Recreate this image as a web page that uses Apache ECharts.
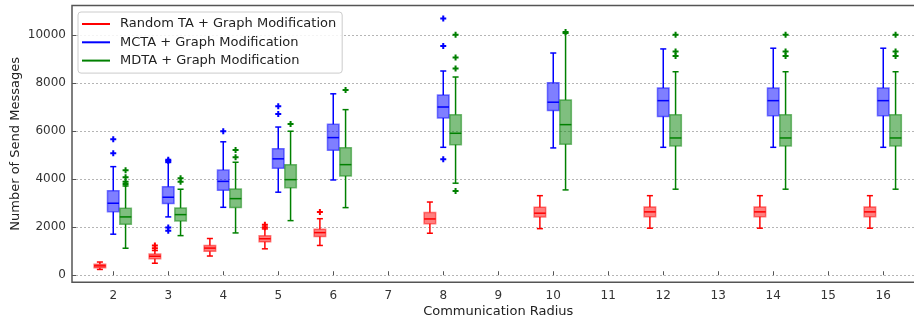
<!DOCTYPE html>
<html><head><meta charset="utf-8">
<script src="https://cdn.jsdelivr.net/npm/echarts@6/dist/echarts.min.js"></script>
<style>html,body{margin:0;padding:0;background:#fff}#c{width:914px;height:322px}</style>
</head><body><div id="c"></div><script>
// ---- data ----
const xTicks = [2,3,4,5,6,7,8,9,10,11,12,13,14,15,16];
const yTicks = [0,2000,4000,6000,8000,10000];
const seriesNames = ['Random TA + Graph Modification','MCTA + Graph Modification','MDTA + Graph Modification'];
const xAxisName = 'Communication Radius';
const yAxisName = 'Number of Send Messages';
// each box: [radius, whiskerLow, q1, median, q3, whiskerHigh]
const randomBoxes = [
  [2, 240, 310, 390, 460, 550],
  [3, 500, 690, 790, 885, 1030],
  [4, 800, 1000, 1130, 1240, 1530],
  [5, 1100, 1390, 1520, 1640, 1930],
  [6, 1240, 1610, 1775, 1915, 2355],
  [8, 1750, 2150, 2345, 2610, 3050],
  [10, 1940, 2430, 2585, 2835, 3315],
  [12, 1960, 2440, 2640, 2845, 3315],
  [14, 1960, 2440, 2640, 2845, 3315],
  [16, 1960, 2440, 2640, 2845, 3315]
];
const randomOutliers = [[3,1125],[3,1235],[5,2000],[5,2100],[6,2630]];
const mctaBoxes = [
  [2, 1710, 2650, 3000, 3525, 4525],
  [3, 2430, 2985, 3250, 3690, 4700],
  [4, 2830, 3540, 3910, 4380, 5560],
  [5, 3460, 4460, 4850, 5275, 6175],
  [6, 3970, 5208, 5735, 6290, 7560],
  [8, 5330, 6555, 7010, 7510, 8510],
  [10, 5305, 6860, 7210, 8025, 9260],
  [12, 5330, 6610, 7275, 7805, 9430],
  [14, 5330, 6650, 7275, 7805, 9460],
  [16, 5330, 6650, 7275, 7805, 9460]
];
const mctaOutliers = [[2,5080],[2,5670],[3,1850],[3,1985],[3,4760],[3,4810],[4,6000],[5,6720],[5,7040],[8,4830],[8,9550],[8,10700]];
const mdtaBoxes = [
  [2, 1125, 2125, 2430, 2790, 3720],
  [3, 1650, 2262, 2525, 2804, 3583],
  [4, 1762, 2817, 3192, 3596, 4708],
  [5, 2275, 3650, 3983, 4608, 6000],
  [6, 2817, 4137, 4608, 5317, 6900],
  [8, 3835, 5440, 5915, 6690, 8260],
  [10, 3555, 5460, 6275, 7305, 10080],
  [12, 3585, 5390, 5720, 6690, 8480],
  [14, 3585, 5390, 5720, 6690, 8480],
  [16, 3585, 5390, 5720, 6690, 8480]
];
const mdtaOutliers = [[2,3800],[2,3890],[2,4080],[2,4375],[3,3900],[3,4040],[4,4917],[4,5221],[5,6304],[6,7721],
  [8,3510],[8,8610],[8,9070],[8,10025],[10,10140],[12,9140],[12,9320],[12,10025],[14,9140],[14,9320],[14,10025],[16,9140],[16,9320],[16,10025]];

// ---- styling ----
const groups = [
  {name: seriesNames[0], boxes: randomBoxes, outliers: randomOutliers, offset: -0.243, color: '#ff0000', fill: 'rgba(255,0,0,0.5)', edge: 'rgba(255,0,0,0.5)'},
  {name: seriesNames[1], boxes: mctaBoxes, outliers: mctaOutliers, offset: 0, color: '#0000ff', fill: 'rgba(0,0,255,0.5)', edge: 'rgba(0,0,255,0.5)'},
  {name: seriesNames[2], boxes: mdtaBoxes, outliers: mdtaOutliers, offset: 0.224, color: '#008000', fill: 'rgba(0,128,0,0.5)', edge: 'rgba(0,128,0,0.5)'}
];
const plusPath = 'path://M2,0H4V2H6V4H4V6H2V4H0V2H2Z';

function makeRender(g) {
  return function (params, api) {
    const x = api.value(0) + g.offset;
    const lo = api.value(1), q1 = api.value(2), md = api.value(3), q3 = api.value(4), hi = api.value(5);
    const halfW = 0.105, capW = 0.055;
    const p = (xx, v) => api.coord([xx, v]);
    const line = (a, b, style) => ({type: 'line', shape: {x1: a[0], y1: a[1], x2: b[0], y2: b[1]}, style});
    const ws = {stroke: g.color, lineWidth: 1.5};
    const tl = p(x - halfW, q3), br = p(x + halfW, q1);
    return {type: 'group', children: [
      line(p(x, q3), p(x, hi), ws),
      line(p(x, q1), p(x, lo), ws),
      line(p(x - capW, hi), p(x + capW, hi), ws),
      line(p(x - capW, lo), p(x + capW, lo), ws),
      {type: 'rect', shape: {x: tl[0], y: tl[1], width: br[0] - tl[0], height: br[1] - tl[1]},
        style: {fill: g.fill, stroke: g.edge, lineWidth: 1.5}},
      line(p(x - halfW, md), p(x + halfW, md), {stroke: g.color, lineWidth: 1.5})
    ]};
  };
}

const series = [];
groups.forEach(g => {
  series.push({
    type: 'custom', name: g.name, renderItem: makeRender(g),
    itemStyle: {color: g.color},
    encode: {x: 0, y: [1, 2, 3, 4, 5]},
    data: g.boxes, z: 2
  });
});
groups.forEach(g => {
  series.push({
    type: 'scatter', name: g.name + ' outliers', symbol: plusPath, symbolSize: 6,
    itemStyle: {color: g.color, opacity: 1},
    data: g.outliers.map(d => [d[0] + g.offset, d[1]]), z: 3, silent: true
  });
});

const chart = echarts.init(document.getElementById('c'), null, {renderer: 'canvas'});
const font = 'DejaVu Sans';
chart.setOption({
  animation: false,
  backgroundColor: '#fff',
  grid: {left: 72, top: 5.5, right: -10.5, bottom: 39.7, show: true, borderColor: '#555', borderWidth: 1.5,
    backgroundColor: 'transparent', containLabel: false, outerBoundsMode: 'none'},
  legend: {
    data: seriesNames, orient: 'vertical', left: 78, top: 12,
    itemWidth: 28, itemHeight: 2, itemGap: 5.3, icon: 'rect',
    backgroundColor: 'rgba(255,255,255,0.85)', borderColor: '#ccc', borderWidth: 1, borderRadius: 3,
    padding: [5.5, 6, 6, 4],
    textStyle: {fontFamily: font, fontSize: 13, color: '#222', padding: [0, 0, 0, 5]}
  },
  xAxis: {
    type: 'value', min: 1.25, max: 16.75,
    name: xAxisName, nameLocation: 'middle', nameGap: 23, nameMoveOverlap: false,
    nameTextStyle: {fontFamily: font, fontSize: 13, color: '#222'},
    axisLine: {show: false},
    axisTick: {show: true, inside: true, length: 4, lineStyle: {color: '#555', width: 1}, customValues: xTicks},
    axisLabel: {fontFamily: font, fontSize: 12, color: '#333', margin: 8, customValues: xTicks, formatter: v => String(v)},
    splitLine: {show: false}
  },
  yAxis: {
    type: 'value', min: -295, max: 11240,
    name: yAxisName, nameLocation: 'middle', nameGap: 50, nameMoveOverlap: false,
    nameTextStyle: {fontFamily: font, fontSize: 13, color: '#222'},
    axisLine: {show: false},
    axisTick: {show: true, inside: true, length: 4, lineStyle: {color: '#555', width: 1}, customValues: yTicks},
    axisLabel: {fontFamily: font, fontSize: 12, color: '#333', margin: 6, customValues: yTicks, formatter: v => String(v)},
    splitLine: {show: true, lineStyle: {color: '#b5b5b5', type: [2, 2], width: 1}}
  },
  series: series
});
</script></body></html>
